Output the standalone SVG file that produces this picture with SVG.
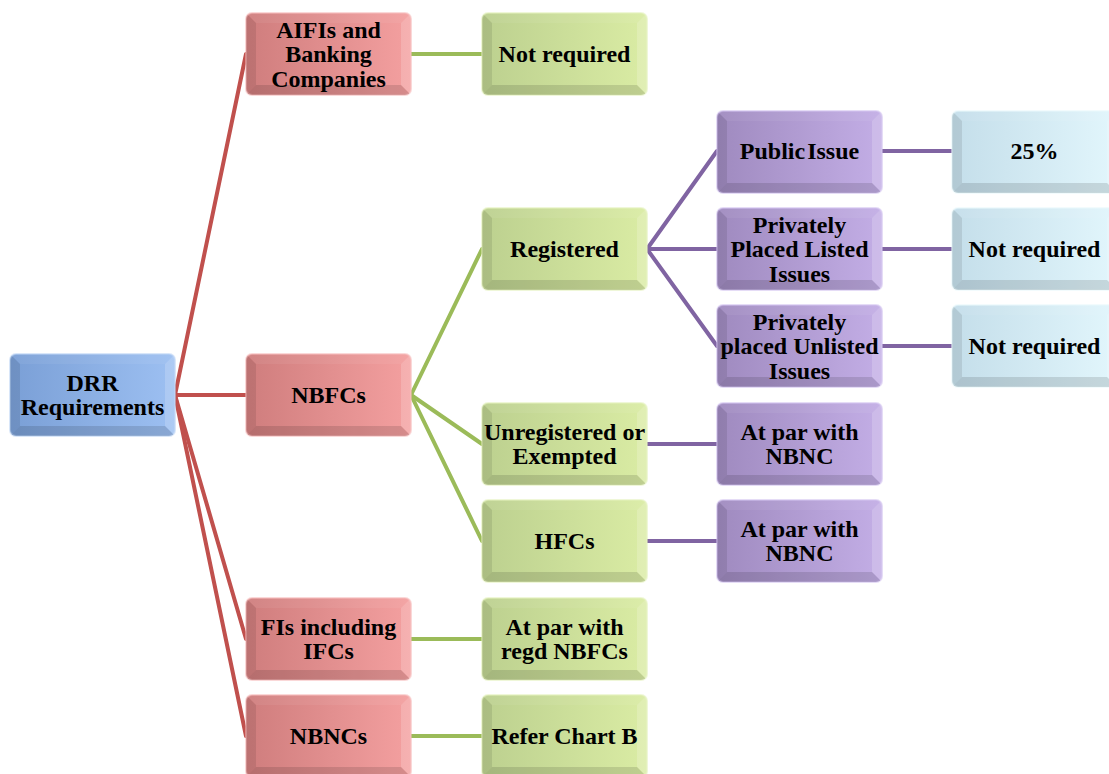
<svg xmlns="http://www.w3.org/2000/svg" xmlns:xlink="http://www.w3.org/1999/xlink" width="1109" height="774" viewBox="0 0 1109 774">
<style>
.t{font-family:"Liberation Serif","Times New Roman",serif;font-weight:bold;font-size:24px;text-anchor:middle;fill:#000}
.c{fill:none;stroke-width:4;stroke-linecap:round}
.cr{stroke:#c0504d}.cg{stroke:#9bbb59}.cp{stroke:#8064a2}
.box{stroke-width:2;stroke-opacity:0.55}
</style>
<defs>
<linearGradient id="gB" x1="0" y1="0" x2="1" y2="0"><stop offset="0" stop-color="#7a9fd6"/><stop offset="1" stop-color="#9dc0f2"/></linearGradient>
<linearGradient id="gR" x1="0" y1="0" x2="1" y2="0"><stop offset="0" stop-color="#cf7d7d"/><stop offset="1" stop-color="#f4a0a0"/></linearGradient>
<linearGradient id="gG" x1="0" y1="0" x2="1" y2="0"><stop offset="0" stop-color="#bcd08f"/><stop offset="1" stop-color="#daeca4"/></linearGradient>
<linearGradient id="gP" x1="0" y1="0" x2="1" y2="0"><stop offset="0" stop-color="#9f8abf"/><stop offset="1" stop-color="#c3aee6"/></linearGradient>
<linearGradient id="gL" x1="0" y1="0" x2="1" y2="0"><stop offset="0" stop-color="#c4deea"/><stop offset="1" stop-color="#e2f6fc"/></linearGradient>
<clipPath id="clip"><rect x="0" y="0" width="165" height="82" rx="6"/></clipPath>
<g id="bev" clip-path="url(#clip)">
<polygon points="0,0 10,10 10,72 0,82" fill="#000" fill-opacity="0.09"/>
<polygon points="0,0 165,0 155,10 10,10" fill="#fff" fill-opacity="0.06"/>
<polygon points="165,0 165,82 155,72 155,10" fill="#fff" fill-opacity="0.18"/>
<polygon points="0,82 10,72 155,72 165,82" fill="#000" fill-opacity="0.12"/>
</g>
</defs>

<g id="connectors">
<line class="c cr" x1="175" y1="395" x2="246" y2="54"/>
<line class="c cr" x1="175" y1="395" x2="246" y2="395"/>
<line class="c cr" x1="175" y1="395" x2="246" y2="639"/>
<line class="c cr" x1="175" y1="395" x2="246" y2="736"/>
<line class="c cg" x1="411" y1="54" x2="482" y2="54"/>
<line class="c cg" x1="411" y1="395" x2="482" y2="249"/>
<line class="c cg" x1="411" y1="395" x2="482" y2="444"/>
<line class="c cg" x1="411" y1="395" x2="482" y2="541"/>
<line class="c cg" x1="411" y1="639" x2="482" y2="639"/>
<line class="c cg" x1="411" y1="736" x2="482" y2="736"/>
<line class="c cp" x1="647" y1="249" x2="717" y2="151"/>
<line class="c cp" x1="647" y1="249" x2="717" y2="249"/>
<line class="c cp" x1="647" y1="249" x2="717" y2="346"/>
<line class="c cp" x1="647" y1="444" x2="717" y2="444"/>
<line class="c cp" x1="647" y1="541" x2="717" y2="541"/>
<line class="c cp" x1="882" y1="151" x2="952" y2="151"/>
<line class="c cp" x1="882" y1="249" x2="952" y2="249"/>
<line class="c cp" x1="882" y1="346" x2="952" y2="346"/>
</g>

<g id="drr"><rect class="box" x="10" y="354" width="165" height="82" rx="6" fill="url(#gB)" stroke="#b8d2f4"/><use xlink:href="#bev" x="10" y="354"/><text class="t" x="92.5" y="391">DRR</text><text class="t" x="92.5" y="415">Requirements</text></g>

<g id="aifis"><rect class="box" x="246" y="13" width="165" height="82" rx="6" fill="url(#gR)" stroke="#f6b8b8"/><use xlink:href="#bev" x="246" y="13"/><text class="t" x="328.5" y="37.5">AIFIs and</text><text class="t" x="328.5" y="62">Banking</text><text class="t" x="328.5" y="86.5">Companies</text></g>
<g id="nbfcs"><rect class="box" x="246" y="354" width="165" height="82" rx="6" fill="url(#gR)" stroke="#f6b8b8"/><use xlink:href="#bev" x="246" y="354"/><text class="t" x="328.5" y="403">NBFCs</text></g>
<g id="fis"><rect class="box" x="246" y="598" width="165" height="82" rx="6" fill="url(#gR)" stroke="#f6b8b8"/><use xlink:href="#bev" x="246" y="598"/><text class="t" x="328.5" y="635">FIs including</text><text class="t" x="328.5" y="659">IFCs</text></g>
<g id="nbncs"><rect class="box" x="246" y="695" width="165" height="82" rx="6" fill="url(#gR)" stroke="#f6b8b8"/><use xlink:href="#bev" x="246" y="695"/><text class="t" x="328.5" y="744">NBNCs</text></g>

<g id="notreq1"><rect class="box" x="482" y="13" width="165" height="82" rx="6" fill="url(#gG)" stroke="#e2f0b8"/><use xlink:href="#bev" x="482" y="13"/><text class="t" x="564.5" y="62">Not required</text></g>
<g id="registered"><rect class="box" x="482" y="208" width="165" height="82" rx="6" fill="url(#gG)" stroke="#e2f0b8"/><use xlink:href="#bev" x="482" y="208"/><text class="t" x="564.5" y="257">Registered</text></g>
<g id="unregistered"><rect class="box" x="482" y="403" width="165" height="82" rx="6" fill="url(#gG)" stroke="#e2f0b8"/><use xlink:href="#bev" x="482" y="403"/><text class="t" x="564.5" y="440">Unregistered or</text><text class="t" x="564.5" y="464">Exempted</text></g>
<g id="hfcs"><rect class="box" x="482" y="500" width="165" height="82" rx="6" fill="url(#gG)" stroke="#e2f0b8"/><use xlink:href="#bev" x="482" y="500"/><text class="t" x="564.5" y="549">HFCs</text></g>
<g id="atparregd"><rect class="box" x="482" y="598" width="165" height="82" rx="6" fill="url(#gG)" stroke="#e2f0b8"/><use xlink:href="#bev" x="482" y="598"/><text class="t" x="564.5" y="635">At par with</text><text class="t" x="564.5" y="659">regd NBFCs</text></g>
<g id="referb"><rect class="box" x="482" y="695" width="165" height="82" rx="6" fill="url(#gG)" stroke="#e2f0b8"/><use xlink:href="#bev" x="482" y="695"/><text class="t" x="564.5" y="744">Refer Chart B</text></g>

<g id="public"><rect class="box" x="717" y="111" width="165" height="82" rx="6" fill="url(#gP)" stroke="#d0c0ee"/><use xlink:href="#bev" x="717" y="111"/><text class="t" x="799.5" y="159" word-spacing="-4">Public Issue</text></g>
<g id="listed"><rect class="box" x="717" y="208" width="165" height="82" rx="6" fill="url(#gP)" stroke="#d0c0ee"/><use xlink:href="#bev" x="717" y="208"/><text class="t" x="799.5" y="232.5">Privately</text><text class="t" x="799.5" y="257">Placed Listed</text><text class="t" x="799.5" y="281.5">Issues</text></g>
<g id="unlisted"><rect class="box" x="717" y="305" width="165" height="82" rx="6" fill="url(#gP)" stroke="#d0c0ee"/><use xlink:href="#bev" x="717" y="305"/><text class="t" x="799.5" y="329.5">Privately</text><text class="t" x="799.5" y="354">placed Unlisted</text><text class="t" x="799.5" y="378.5">Issues</text></g>
<g id="atpar1"><rect class="box" x="717" y="403" width="165" height="82" rx="6" fill="url(#gP)" stroke="#d0c0ee"/><use xlink:href="#bev" x="717" y="403"/><text class="t" x="799.5" y="440">At par with</text><text class="t" x="799.5" y="464">NBNC</text></g>
<g id="atpar2"><rect class="box" x="717" y="500" width="165" height="82" rx="6" fill="url(#gP)" stroke="#d0c0ee"/><use xlink:href="#bev" x="717" y="500"/><text class="t" x="799.5" y="537">At par with</text><text class="t" x="799.5" y="561">NBNC</text></g>

<g id="pct25"><rect class="box" x="952" y="111" width="165" height="82" rx="6" fill="url(#gL)" stroke="#e8f8fc"/><use xlink:href="#bev" x="952" y="111"/><text class="t" x="1034.5" y="159">25%</text></g>
<g id="notreq2"><rect class="box" x="952" y="208" width="165" height="82" rx="6" fill="url(#gL)" stroke="#e8f8fc"/><use xlink:href="#bev" x="952" y="208"/><text class="t" x="1034.5" y="257">Not required</text></g>
<g id="notreq3"><rect class="box" x="952" y="305" width="165" height="82" rx="6" fill="url(#gL)" stroke="#e8f8fc"/><use xlink:href="#bev" x="952" y="305"/><text class="t" x="1034.5" y="354">Not required</text></g>
</svg>
